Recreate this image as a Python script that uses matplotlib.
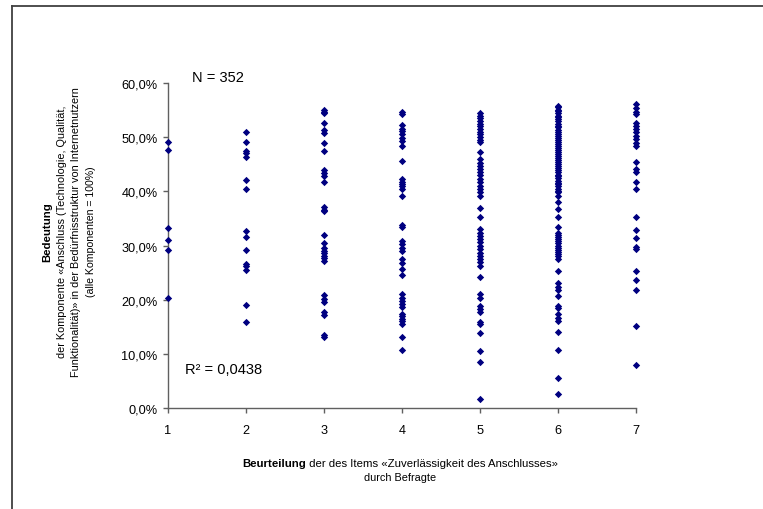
import matplotlib
matplotlib.use("Agg")
import matplotlib.pyplot as plt
from matplotlib.lines import Line2D

plt.rcParams['font.family'] = ['Liberation Sans', 'DejaVu Sans']

# ---- data (values in %) ----
col1 = [49.2, 47.7, 33.2, 31.1, 29.1, 20.3]
col2 = [51.0, 49.2, 47.4, 47.0, 46.4, 42.1, 40.4, 32.7, 31.5, 29.2, 26.6, 26.2,
        25.5, 19.0, 15.8]
col3 = [55.1, 54.7, 54.5, 52.6, 51.4, 50.7, 48.9, 47.5, 44.0, 43.4, 42.8, 41.8,
        37.2, 36.6, 36.3, 32.0, 30.4, 29.5, 29.0, 28.6, 28.1, 27.7, 27.2, 20.9,
        20.1, 19.5, 17.7, 17.2, 13.5, 13.1]
col4 = [54.6, 54.2, 52.3, 51.6, 51.1, 50.6, 49.8, 49.3, 48.4, 45.6, 42.3, 41.8,
        41.4, 40.9, 40.4, 39.2, 33.8, 33.4, 30.8, 30.2, 29.5, 28.9, 27.5, 26.8,
        25.7, 24.6, 21.0, 20.4, 19.8, 19.2, 18.6, 17.4, 16.9, 16.4, 16.0, 15.5,
        13.2, 10.7]
col5 = [54.5, 54.0, 53.5, 53.0, 52.5, 52.0, 51.5, 51.0, 50.5, 50.0, 49.5, 49.2,
        47.3, 46.0, 45.3, 44.7, 44.1, 43.5, 43.0, 42.3, 41.7, 41.0, 40.4, 39.8,
        39.1, 37.0, 35.2, 33.0, 32.4, 31.8, 31.2, 30.6, 30.0, 29.4, 28.7, 28.1,
        27.5, 26.9, 26.3, 24.1, 21.0, 20.4, 18.9, 18.3, 17.7, 15.8, 15.5, 13.8,
        10.6, 8.5, 1.7]
col6 = [55.8, 55.5, 55.1, 54.8, 54.4, 54.0, 53.7, 53.3, 52.9, 52.5, 52.1, 51.8,
        51.4, 51.0, 50.6, 50.3, 49.9, 49.5, 49.1, 48.8, 48.4, 48.0, 47.6, 47.3,
        46.9, 46.5, 46.1, 45.8, 45.4, 45.0, 44.6, 44.3, 43.9, 43.5, 43.1, 42.8,
        42.4, 42.0, 41.6, 41.3, 40.9, 40.5, 40.1, 39.8, 39.2, 38.0, 36.7, 35.2,
        33.4, 32.4, 32.0, 31.6, 31.2, 30.8, 30.4, 30.0, 29.6, 29.2, 28.8, 28.4,
        28.0, 27.5, 25.3, 23.0, 22.3, 21.7, 20.6, 18.9, 18.5, 17.4, 16.7, 16.0,
        14.0, 10.7, 5.5, 2.6]
col7 = [56.1, 55.4, 54.6, 54.2, 52.7, 52.1, 51.5, 50.9, 50.3, 49.7, 49.0, 48.3,
        45.5, 44.1, 43.5, 41.8, 40.4, 35.2, 32.9, 31.3, 29.7, 29.4, 25.3, 23.7,
        21.7, 15.1, 7.9]
columns = [col1, col2, col3, col4, col5, col6, col7]
x_ticks = [1, 2, 3, 4, 5, 6, 7]
y_ticks = [0.0, 0.1, 0.2, 0.3, 0.4, 0.5, 0.6]
y_tick_labels = ["0,0%", "10,0%", "20,0%", "30,0%", "40,0%", "50,0%", "60,0%"]
n_text = "N = 352"
r2_text = "R² = 0,0438"

W, H = 763, 510
fig = plt.figure(figsize=(W / 100, H / 100), dpi=100)
fig.patch.set_facecolor('white')

ax = fig.add_axes([168 / W, 1 - 409 / H, 468 / W, 325 / H])
for xv, vals in zip(x_ticks, columns):
    ax.scatter([xv] * len(vals), [v / 100 for v in vals], marker='D', s=14,
               color='#000080', linewidths=0, clip_on=False, zorder=3)

ax.set_xlim(1, 7)
ax.set_ylim(0, 0.6)
ax.set_xticks(x_ticks)
ax.set_xticklabels([str(v) for v in x_ticks])
ax.set_yticks(y_ticks)
ax.set_yticklabels(y_tick_labels)
for s in ['top', 'right']:
    ax.spines[s].set_visible(False)
for s in ['left', 'bottom']:
    ax.spines[s].set_color('#606060')
    ax.spines[s].set_linewidth(1.0)
ax.tick_params(axis='both', direction='out', length=3.5, width=1.0,
               color='#606060', labelsize=9.2, labelcolor='black')
ax.tick_params(axis='x', pad=8)
ax.tick_params(axis='y', pad=4)

# annotations
fig.text(192 / W, 1 - 78 / H, n_text, fontsize=10.5, ha='left', va='center')
fig.text(185 / W, 1 - 370 / H, r2_text, fontsize=10.5, ha='left', va='center')

# y label (rotated, multi line)
ylines = [("Bedeutung", 'bold', 47, 8.2),
          ("der Komponente «Anschluss (Technologie, Qualität,", 'normal', 62, 7.8),
          ("Funktionalität)» in der Bedürfnisstruktur von Internetnutzern", 'normal', 76, 7.8),
          ("(alle Komponenten = 100%)", 'normal', 91, 7.6)]
for txt, wt, xp, fs in ylines:
    fig.text(xp / W, 1 - 232 / H, txt, rotation=90, fontsize=fs, fontweight=wt,
             ha='center', va='center')

# x label with mixed weight
fig.canvas.draw()
renderer = fig.canvas.get_renderer()
t_bold = fig.text(0, 1 - 464 / H, "Beurteilung", fontsize=8.2, fontweight='bold',
                  ha='left', va='center')
t_norm = fig.text(0, 1 - 464 / H, " der des Items «Zuverlässigkeit des Anschlusses»",
                  fontsize=8.2, ha='left', va='center')
wb = t_bold.get_window_extent(renderer).width
wn = t_norm.get_window_extent(renderer).width
cx = 400
start = cx - (wb + wn) / 2
t_bold.set_x(start / W)
t_norm.set_x((start + wb) / W)
fig.text(cx / W, 1 - 478 / H, "durch Befragte", fontsize=7.8, ha='center', va='center')

# outer frame (only top and left visible)
fig.add_artist(Line2D([12 / W, 12 / W], [0, 1 - 7 / H], transform=fig.transFigure,
                      color='#404040', linewidth=1.3))
fig.add_artist(Line2D([12 / W, 1], [1 - 7 / H, 1 - 7 / H], transform=fig.transFigure,
                      color='#404040', linewidth=1.3))

fig.savefig("out.png", dpi=100)
